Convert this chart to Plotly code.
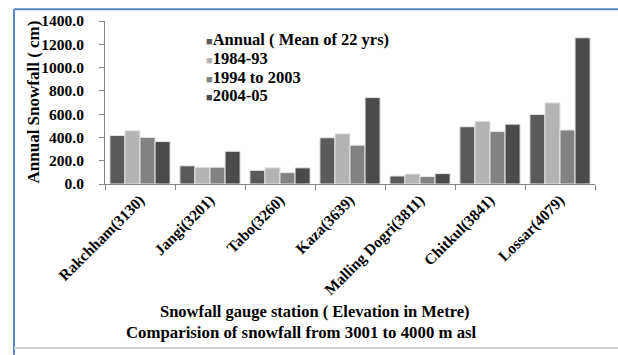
import plotly.graph_objects as go

# Gauge stations (elevation in metres) and annual snowfall (cm)
stations = ["Rakchham(3130)", "Jangi(3201)", "Tabo(3260)", "Kaza(3639)",
            "Malling Dogri(3811)", "Chitkul(3841)", "Lossar(4079)"]
annual_mean = [417, 156, 117, 397, 69, 492, 597]
period_1984_93 = [458, 144, 139, 431, 86, 539, 697]
period_1994_2003 = [400, 144, 97, 333, 64, 450, 464]
season_2004_05 = [364, 281, 139, 742, 89, 514, 1256]

series_names = ["Annual ( Mean of 22 yrs)", "1984-93", "1994 to 2003", "2004-05"]
series_values = [annual_mean, period_1984_93, period_1994_2003, season_2004_05]
series_colors = ["#5a5a5a", "#b4b4b4", "#828282", "#4b4b4b"]

y_ticks = [0, 200, 400, 600, 800, 1000, 1200, 1400]

FONT = "Liberation Serif"

fig = go.Figure()
for name, vals, col in zip(series_names, series_values, series_colors):
    fig.add_trace(go.Bar(
        x=stations, y=vals, name=name,
        marker=dict(color=col, line=dict(color="#e6e6e6", width=1)),
        showlegend=False,
    ))

# Legend rows drawn as text with a coloured square glyph
legend_y = [0.887, 0.772, 0.655, 0.540]
for name, col, ly in zip(series_names, series_colors, legend_y):
    fig.add_annotation(
        xref="paper", yref="paper", x=(204 - 105) / 490, y=ly,
        xanchor="left", yanchor="middle", showarrow=False,
        text=f'<span style="color:{col};font-size:11px">■</span><b>{name}</b>',
        font=dict(family=FONT, size=16.5, color="#000000"),
    )

# Y-axis title
fig.add_annotation(
    xref="paper", yref="paper", x=(33 - 105) / 490, y=0.5,
    xanchor="center", yanchor="middle", showarrow=False, textangle=-90,
    text="<b>Annual Snowfall ( cm)</b>",
    font=dict(family=FONT, size=17, color="#000000"),
)

# X-axis title and caption below the chart
fig.add_annotation(
    xref="paper", yref="paper", x=(315 - 105) / 490, y=(184 - 315) / 168,
    xanchor="center", yanchor="middle", showarrow=False,
    text="<b>Snowfall gauge station ( Elevation in Metre)</b>",
    font=dict(family=FONT, size=16.5, color="#000000"),
)
fig.add_annotation(
    xref="paper", yref="paper", x=(301 - 105) / 490, y=(184 - 337) / 168,
    xanchor="center", yanchor="middle", showarrow=False,
    text="<b>Comparision of snowfall from 3001 to 4000 m asl</b>",
    font=dict(family=FONT, size=16.8, color="#000000"),
)

# Frame around the figure
fig.add_shape(type="line", xref="paper", yref="paper",
              x0=(14 - 105) / 490, x1=(640 - 105) / 490,
              y0=(184 - 4) / 168, y1=(184 - 4) / 168,
              line=dict(color="#5b87c5", width=2))
fig.add_shape(type="line", xref="paper", yref="paper",
              x0=(14 - 105) / 490, x1=(14 - 105) / 490,
              y0=(184 - 4) / 168, y1=(184 - 360) / 168,
              line=dict(color="#5b87c5", width=2))
fig.add_shape(type="line", xref="paper", yref="paper",
              x0=(14 - 105) / 490, x1=(640 - 105) / 490,
              y0=(184 - 353) / 168, y1=(184 - 353) / 168,
              line=dict(color="#d0d0d0", width=2))

fig.update_layout(
    width=618, height=355,
    margin=dict(l=105, r=23, t=16, b=171),
    paper_bgcolor="#ffffff", plot_bgcolor="#ffffff",
    barmode="group", bargap=0.14, bargroupgap=0,
    font=dict(family=FONT, size=14, color="#000000"),
)
fig.update_xaxes(
    tickangle=-45, tickson="boundaries", ticks="outside", ticklen=5,
    tickcolor="#868686", showline=True, linecolor="#868686", linewidth=1,
    tickfont=dict(family=FONT, size=15.5, color="#000000"),
    ticktext=[f"<b>{s}</b>" for s in stations], tickvals=stations,
    showgrid=False,
)
fig.update_yaxes(
    range=[0, 1400], tickvals=y_ticks,
    ticktext=[f"<b>{v:.1f}</b>" for v in y_ticks],
    ticks="outside", ticklen=5, tickcolor="#868686", ticklabelstandoff=12,
    showline=True, linecolor="#868686", linewidth=1,
    showgrid=False, zeroline=False,
    tickfont=dict(family=FONT, size=15.5, color="#000000"),
)

fig.write_html("out.html")
